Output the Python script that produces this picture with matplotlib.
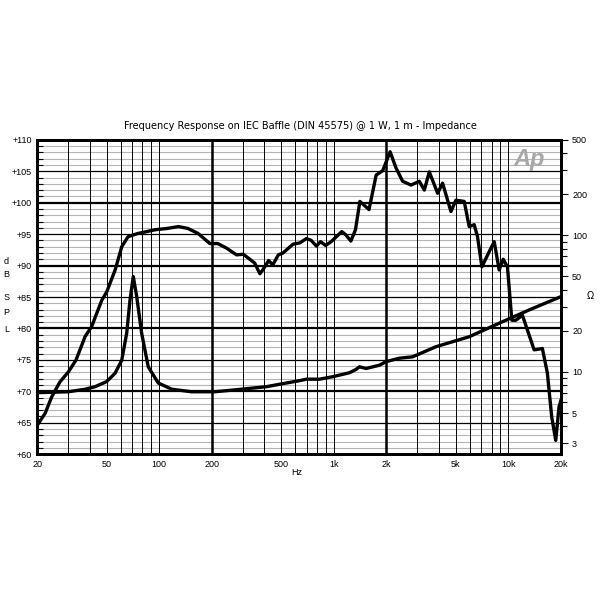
import numpy as np
import matplotlib.pyplot as plt
from matplotlib.ticker import FixedLocator, NullFormatter

# SPL curve (dB)
spl_freq = [20, 22.2, 24.2, 27.0, 30.2, 33.4, 37.6, 41.0, 46.9, 50.0, 55.9, 61.0, 66.3, 75.5,
            94.9, 111, 129, 146, 167, 195, 216, 242, 277, 303, 352, 377, 394, 423, 447, 481,
            511, 584, 638, 697, 742, 795, 838, 897, 965, 1110, 1170, 1252, 1330, 1410, 1590,
            1748, 1906, 2100, 2272, 2478, 2768, 3088, 3298, 3522, 3930, 4196, 4684, 5004,
            5582, 5960, 6368, 6650, 7046, 7758, 8288, 8850, 9332, 9870, 10457, 11016, 12020,
            14030, 15650, 16710, 17700, 18660, 19480, 20000]
spl_db = [64.6, 66.5, 69.1, 71.5, 73.1, 75.0, 78.7, 80.3, 84.5, 85.8, 89.3, 93.0, 94.6, 95.1,
          95.7, 95.9, 96.2, 95.9, 95.1, 93.5, 93.5, 92.8, 91.7, 91.8, 90.4, 88.7, 89.4, 90.8,
          90.1, 91.7, 92.0, 93.4, 93.6, 94.3, 94.0, 93.1, 93.8, 93.2, 93.8, 95.4, 94.9, 93.9,
          95.7, 100.2, 98.9, 104.4, 105.1, 108.1, 105.5, 103.4, 102.8, 103.4, 102.0, 104.9,
          101.5, 103.1, 98.6, 100.4, 100.2, 96.2, 96.5, 94.6, 89.8, 92.2, 93.8, 89.3, 91.0,
          89.8, 81.3, 81.3, 82.1, 76.6, 76.8, 72.9, 65.9, 62.2, 67.5, 68.6]

# impedance curve (ohm)
imp_freq = [20, 30.2, 37.6, 42.9, 50, 55.9, 61, 65.1, 68, 71, 74.3, 79.3, 86.5, 98.7, 118, 153,
            208, 265, 411, 535, 637, 695, 828, 986, 1230, 1342, 1402, 1531, 1824, 1993, 2372,
            2826, 3846, 5960, 9240, 13120, 20000]
imp_ohm = [7.05, 7.16, 7.47, 7.8, 8.5, 9.8, 12.2, 19.2, 33.6, 49.9, 35.6, 19.2, 10.9, 8.3, 7.47,
           7.16, 7.16, 7.37, 7.8, 8.3, 8.63, 8.85, 8.85, 9.23, 9.87, 10.45, 10.9, 10.6, 11.2,
           11.9, 12.6, 12.9, 15.3, 18.1, 23.3, 28.4, 35.6]

x_major = [20, 50, 100, 200, 500, 1000, 2000, 5000, 10000, 20000]
x_labels = ['20', '50', '100', '200', '500', '1k', '2k', '5k', '10k', '20k']
y_major = [60, 65, 70, 75, 80, 85, 90, 95, 100, 105, 110]
z_major = [3, 5, 10, 20, 50, 100, 200, 500]

plt.rcParams['font.family'] = ['Liberation Sans', 'DejaVu Sans']

fig = plt.figure(figsize=(6, 6), dpi=100, facecolor='w')
ax = fig.add_axes([0.062, 0.243, 0.873, 0.524])
ax.set_xscale('log')
ax.set_xlim(20, 20000)
ax.set_ylim(60, 110)

# grid
all_x = [m * 10**e for e in range(1, 5) for m in range(1, 10)]
all_x = [v for v in all_x if 20 < v < 20000]
for v in all_x:
    lw = 1.8 if v in (200, 2000) else 0.7
    ax.axvline(v, color='k', lw=lw, zorder=1)
for v in range(61, 110):
    if v % 10 == 0:
        ax.axhline(v, color='k', lw=1.6, zorder=1)
    elif v % 5 == 0:
        ax.axhline(v, color='k', lw=0.9, zorder=1)
    else:
        ax.axhline(v, color='#b4b4b4', lw=0.8, zorder=0.5)

ax.plot(spl_freq, spl_db, color='k', lw=2.4, zorder=3, solid_joinstyle='round')

ax.xaxis.set_major_locator(FixedLocator(x_major))
ax.xaxis.set_minor_locator(FixedLocator([]))
ax.set_xticklabels(x_labels)
ax.tick_params(axis='x', length=0, pad=4, labelsize=6.5)
ax.yaxis.set_major_locator(FixedLocator(y_major))
ax.set_yticklabels([f'+{v}' for v in y_major])
ax.yaxis.set_minor_locator(FixedLocator(list(range(61, 110))))
ax.yaxis.set_minor_formatter(NullFormatter())
ax.tick_params(axis='y', which='major', length=0, pad=4, labelsize=6.5)
ax.tick_params(axis='y', which='minor', direction='in', length=4, width=0.8)
for s in ax.spines.values():
    s.set_linewidth(2)

ax2 = ax.twinx()
ax2.set_yscale('log')
ax2.set_ylim(2.5, 500)
ax2.plot(imp_freq, imp_ohm, color='k', lw=2.4, zorder=3, solid_joinstyle='round')
ax2.yaxis.set_major_locator(FixedLocator(z_major))
ax2.set_yticklabels([str(v) for v in z_major])
minor_z = [m * 10**e for e in range(0, 3) for m in range(2, 10)]
ax2.yaxis.set_minor_locator(FixedLocator([v for v in minor_z if v not in z_major]))
ax2.yaxis.set_minor_formatter(NullFormatter())
ax2.tick_params(axis='y', which='major', direction='out', length=5, width=0.8, pad=3, labelsize=6.5)
ax2.tick_params(axis='y', which='minor', direction='out', length=4, width=0.8)
for s in ax2.spines.values():
    s.set_linewidth(2)

ax.text(0.97, 0.975, 'Ap', transform=ax.transAxes, ha='right', va='top', fontsize=17,
        fontstyle='italic', fontweight='bold', color='#a8a8a8', zorder=4)

fig.text(0.5, 0.79, 'Frequency Response on IEC Baffle (DIN 45575) @ 1 W, 1 m - Impedance',
         ha='center', va='center', fontsize=7, family='DejaVu Sans')
fig.text(0.495, 0.212, 'Hz', ha='center', va='center', fontsize=6.5)
for letter, yy in zip('dBSPL', [262, 275, 297, 313, 330]):
    fig.text(0.011, 1 - yy / 600, letter, ha='center', va='center', fontsize=6.5)
fig.text(0.983, 1 - 296 / 600, 'Ω', ha='center', va='center', fontsize=7)

plt.savefig('out.png', dpi=100, facecolor='w')
